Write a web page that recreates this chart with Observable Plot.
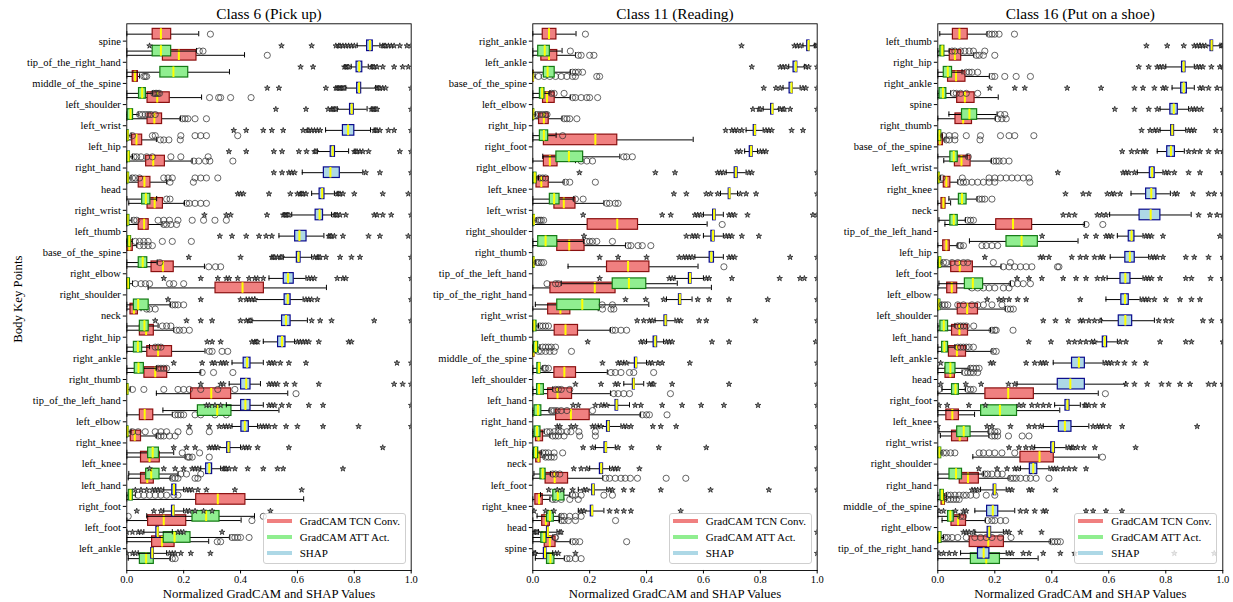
<!DOCTYPE html>
<html><head><meta charset="utf-8">
<script src="https://cdn.jsdelivr.net/npm/d3@7"></script>
<script src="https://cdn.jsdelivr.net/npm/@observablehq/plot@0.6"></script>
<style>
body{margin:0;background:#fff;}
#wrap{position:relative;width:1233px;height:602px;overflow:hidden;font-family:"Liberation Serif","Times New Roman",serif;}
#wrap svg, #wrap svg text{font-family:"Liberation Serif","Times New Roman",serif !important;}
.panel{position:absolute;top:0;}
.legend{position:absolute;width:141px;height:49px;border:1px solid #cfcfcf;border-radius:3px;background:rgba(255,255,255,0.8);}
.legend .ln{position:absolute;left:3px;width:25px;height:4px;}
.legend .tx{position:absolute;left:36px;font-size:11px;line-height:14px;color:#000;white-space:nowrap;}
</style></head><body><div id="wrap"></div><script>
// ---------- Class 6 (Pick up) ----------
const C6_LABELS = ["spine","tip_of_the_right_hand","middle_of_the_spine","left_shoulder","left_wrist","left_hip","right_hand","head","right_wrist","left_thumb","base_of_the_spine","right_elbow","right_shoulder","neck","right_hip","right_ankle","right_thumb","tip_of_the_left_hand","left_elbow","right_knee","left_knee","left_hand","right_foot","left_foot","left_ankle"];
// [whisker low, q1, median, q3, whisker high]
const C6_TCN = [[0,.091,.12,.156,.253],[0,.127,.183,.245,.414],[0,.021,.029,.039,.045],[0,.073,.107,.151,.263],[0,.073,.097,.124,.189],[0,.019,.034,.054,.104],[0,.068,.093,.134,.23],[0,.042,.062,.083,.14],[.007,.073,.098,.127,.203],[0,.042,.061,.077,.124],[0,.002,.009,.021,.035],[0,.087,.127,.165,.273],[.075,.312,.407,.482,.702],[0,.013,.025,.039,.05],[0,.046,.068,.095,.165],[0,.072,.11,.159,.275],[0,.062,.1,.142,.26],[.104,.226,.297,.367,.566],[0,.046,.063,.093,.16],[0,.014,.028,.05,.105],[0,.05,.08,.116,.205],[.005,.05,.072,.095,.155],[0,.244,.32,.417,.622],[0,.075,.13,.209,.402],[0,.089,.124,.168,.288]];
const C6_TCN_OUT = [[.294],[.494],[.06,.065,.07],[.291,.323,.33,.365,.437],[.195,.205,.215,.24,.28],[.118,.13,.148,.188],[.236,.253,.277,.292,.373],[.152,.234],[.21,.22,.24,.26,.28],[.13,.14,.155,.175],[.045,.06,.075,.09],[.288,.312,.33],[],[.07,.08,.1],[.175,.185,.2,.22],[.29,.3,.335,.355],[.265,.305,.373],[.595],[.17,.18,.19,.2,.24,.26,.31,.35],[.11,.12,.13,.15,.17],[.215,.22,.23,.29],[.16,.17,.18,.24,.25],[],[.44],[.318,.33]];
const C6_ATT = [[0,.091,.12,.156,.245],[0,.118,.164,.216,.361],[0,.043,.054,.067,.09],[0,.003,.013,.022,.04],[0,0,.003,.007,.015],[0,0,.006,.011,.02],[0,0,.003,.008,.015],[0,.054,.067,.083,.105],[0,0,.003,.009,.018],[0,.005,.009,.015,.02],[0,.042,.056,.072,.107],[0,0,.004,.011,.02],[0,.025,.04,.077,.154],[0,.046,.062,.077,.11],[0,.025,.039,.054,.08],[0,.028,.041,.06,.105],[0,0,.002,.006,.012],[.127,.25,.318,.368,.535],[0,0,.002,.006,.015],[0,.075,.091,.113,.165],[.007,.068,.086,.115,.18],[0,.007,.013,.021,.03],[.07,.231,.279,.326,.449],[0,.13,.168,.224,.362],[.005,.046,.068,.095,.153]];
const C6_ATT_OUT = [[.255,.268],[],[.095,.1,.105,.11,.115],[.045,.055,.065,.075,.085,.1],[.02,.09,.1,.19,.24,.26,.28,.39],[.025,.035,.05,.07,.09,.155,.19,.286],[.02,.03,.045,.13,.145,.16,.24,.26,.28,.32],[.14,.152],[.025,.035,.11,.13,.15,.18,.23,.27,.31,.35],[.03,.045,.06,.075,.125,.16,.227],[.116],[.03,.05,.065,.08,.15,.165,.2],[.16,.17,.18,.2],[.125,.14,.155],[.1,.11,.12],[.11,.12,.13,.14],[.02,.06,.13,.18,.2,.22,.26,.32,.38],[],[.02,.04,.065,.1,.12,.14,.18,.22,.29],[.195,.256],[.19,.21,.26],[.04,.06,.08,.1,.12,.14,.165,.18],[.005,.48],[.37,.38,.39,.4,.43],[.16,.17]];
const C6_SHAP = [[.81,.845,.855,.865,.89],[.789,.808,.817,.828,.849],[.77,.81,.817,.824,.875],[.74,.785,.791,.798,.845],[.699,.76,.778,.80,.857],[.67,.717,.724,.732,.78],[.617,.693,.716,.749,.83],[.65,.678,.687,.695,.73],[.58,.664,.678,.69,.72],[.535,.592,.607,.632,.693],[.55,.598,.604,.611,.65],[.5,.552,.567,.587,.63],[.45,.555,.566,.576,.62],[.44,.546,.56,.576,.635],[.48,.532,.546,.558,.59],[.37,.411,.423,.435,.48],[.36,.402,.42,.435,.47],[.35,.402,.417,.435,.48],[.37,.403,.415,.429,.46],[.31,.353,.358,.364,.4],[.26,.279,.29,.3,.33],[.13,.16,.166,.174,.2],[.13,.159,.164,.168,.2],[.06,.104,.109,.113,.16],[.04,.086,.09,.095,.14]];
const C6_SHAP_OUT = [[.08,.544,.65,.735,.745,.75,.76,.77,.78,.79,.80,.90,.905,.91,.92,.93,.94,.96,.985,1],[.611,.655,.765,.77,.775,.78,.86,.865,.87,.88,.9,.94,.97,.99],[.494,.535,.7,.735,.74,.745,.75,.755,.76,.765,.88,.885,.89,.9,.91,1],[.524,.63,.708,.72,.725,.73,.735,.86,.865,.87,.875,.88,1],[.376,.42,.48,.51,.55,.62,.635,.64,.65,.66,.67,.68,.87,.875,.88,.89,.92,.94,1],[.359,.42,.517,.546,.605,.632,.66,.665,.8,.805,.81,.82,.83,.85,.96,1],[.517,.546,.57,.58,.59,.84,.89,1],[.39,.40,.41,.5,.575,.6,.61,.615,.62,.63,.74,.745,.75,.76,.8,.9,.99],[.273,.35,.365,.493,.55,.555,.56,.565,.57,.73,.735,.74,.75,.77,.87,.88,.9,.93,1],[.327,.37,.42,.465,.49,.51,.71,.715,.72,.73,.76,.85,.89,.99],[.218,.4,.51,.515,.52,.53,.54,.545,.66,.67,.675,.68,.7,.75,.79,.82,1],[.13,.26,.32,.35,.36,.39,.43,.45,.46,.48,.64,.65,.66,.74,.76,.77,1],[.145,.26,.4,.42,.43,.44,.45,.63,.64,.65,.67,1],[.1,.21,.26,.3,.4,.42,.43,.435,.65,.68,.72,.87,1],[.283,.3,.33,.44,.45,.455,.46,.6,.61,.62,.63,.64,.675,.78,.79],[.165,.265,.3,.31,.33,.34,.35,.5,.51,.52,.54,.57,.63,.95,1],[.26,.33,.34,.5,.51,.52,.53,.56,.59,.675,.94,.97,1],[.28,.29,.31,.33,.5,.51,.52,.545,.57,.64,.69,1],[.22,.29,.325,.34,.35,.36,.47,.48,.49,.5,.52,.56,.6,.69,.815,1],[.165,.21,.24,.29,.3,.31,.32,.41,.42,.43,.46,.57,.9],[.08,.13,.17,.2,.23,.24,.25,.34,.345,.35,.36,.38,.425,.48,.53,.55,.76],[.03,.05,.07,.09,.1,.11,.12,.21,.22,.23,.25,.28,.38,.615],[.035,.095,.12,.21,.22,.24,.27,.3,.505],[0,.02,.04,.05,.18,.19,.2,.335],[0,.02,.03,.15,.16,.17,.19,.225,.294]];

// ---------- Class 11 (Reading) ----------
const C11_LABELS = ["right_ankle","left_ankle","base_of_the_spine","left_elbow","right_hip","right_foot","right_elbow","left_knee","left_wrist","right_shoulder","right_thumb","tip_of_the_left_hand","tip_of_the_right_hand","right_wrist","left_thumb","middle_of_the_spine","left_shoulder","left_hand","right_hand","left_hip","neck","left_foot","right_knee","head","spine"];
const C11_TCN = [[0,.035,.057,.083,.152],[0,.03,.057,.086,.15],[0,0,.001,.003,.008],[0,.036,.05,.077,.132],[0,.022,.039,.056,.103],[0,.039,.22,.297,.564],[0,.039,.06,.087,.15],[0,.013,.03,.056,.11],[0,.076,.109,.15,.25],[0,.193,.297,.37,.613],[0,.086,.128,.182,.326],[.124,.261,.335,.41,.581],[0,.062,.218,.291,.628],[0,.054,.097,.132,.23],[0,.077,.115,.159,.273],[0,0,.002,.006,.01],[0,.076,.111,.152,.262],[0,.054,.087,.138,.273],[0,.082,.134,.2,.379],[0,.011,.02,.036,.06],[0,.012,.02,.027,.04],[0,.045,.077,.124,.246],[0,.009,.022,.035,.06],[0,.033,.046,.06,.094],[0,.042,.06,.08,.132]];
const C11_TCN_OUT = [[.185],[.16,.17,.2,.215],[.02,.04,.06,.08,.1,.12,.14,.15,.225,.235],[.14,.15,.17,.19,.2,.228],[.11,.12,.13,.155],[],[.17,.19,.21],[.115,.13,.22],[.26,.27,.29,.3],[.666],[.335,.345,.37,.385,.415],[.672],[],[.245,.275,.285],[.28,.29,.31,.33],[.02,.03,.045,.06,.075,.136],[.275,.29,.31,.34,.355,.425],[.285,.3,.32,.34,.484],[.385,.4,.41,.472],[.07,.08,.09,.11,.165,.22],[.045,.055,.065,.075],[.256,.27,.29,.31,.325,.343,.368,.469,.538],[.07,.08,.1,.13,.16],[.1,.11,.125,.15,.291],[.14,.15,.165,.33]];
const C11_ATT = [[0,.019,.042,.06,.103],[0,.039,.052,.077,.132],[0,.025,.033,.041,.06],[0,0,.002,.005,.01],[0,.025,.039,.054,.082],[.035,.083,.127,.177,.306],[0,.001,.007,.013,.02],[0,.06,.075,.094,.144],[0,.001,.004,.007,.012],[0,.019,.045,.086,.178],[0,.001,.003,.006,.01],[.1,.281,.338,.399,.508],[.009,.086,.174,.236,.408],[0,.001,.005,.013,.02],[0,.004,.011,.019,.025],[0,.016,.022,.027,.035],[0,.015,.022,.039,.07],[0,.006,.018,.03,.06],[0,.006,.015,.027,.04],[0,.004,.011,.019,.03],[.004,.027,.035,.045,.062],[.027,.072,.088,.111,.13],[.015,.05,.06,.074,.095],[0,.03,.04,.048,.07],[.009,.05,.062,.076,.111]];
const C11_ATT_OUT = [[.132],[.14,.15,.16,.175],[.065,.075,.11],[.015,.025,.035,.045,.05],[.105],[.32,.33,.35],[.025,.035,.045],[.15,.177],[.018,.025,.03,.038],[.19,.2,.21,.225,.28],[.015,.022,.03,.038],[.05,.08,.09],[.244,.28],[.025,.035,.045,.055],[.035,.045,.055,.065,.08],[.04,.045,.055],[.08,.09,.1,.13],[.065,.075,.085,.1,.12,.21],[.05,.06,.075,.09,.1,.12,.134,.162,.22],[.035,.045,.055,.075,.105],[.07,.08,.095],[.14,.15,.17,.25,.28],[.1,.11,.13,.15,.17],[.078,.08],[.12,.13,.15,.17]];
const C11_SHAP = [[.95,.965,.97,.973,.99],[.9,.917,.925,.93,.955],[.88,.903,.91,.914,.94],[.81,.838,.843,.846,.865],[.75,.777,.781,.785,.81],[.745,.763,.768,.773,.79],[.68,.71,.714,.72,.75],[.66,.689,.692,.695,.72],[.6,.634,.638,.643,.67],[.6,.628,.634,.639,.67],[.57,.622,.628,.637,.67],[.5,.549,.553,.558,.6],[.47,.514,.517,.522,.56],[.43,.463,.467,.472,.5],[.4,.425,.431,.437,.46],[.32,.359,.363,.367,.4],[.32,.352,.355,.359,.39],[.25,.291,.295,.3,.34],[.23,.261,.266,.271,.31],[.22,.252,.257,.261,.29],[.2,.236,.241,.247,.27],[.16,.209,.213,.218,.26],[.16,.204,.209,.212,.25],[.02,.05,.053,.056,.085],[.01,.039,.043,.048,.07]];
const C11_SHAP_OUT = [[.734,.92,.93,.94,.995,1],[.77,.87,.88,.89,.96,.97,1],[.812,.855,.87,.95,.96,1],[.774,.795,.8,.87,.88,.885,.905,1],[.678,.7,.71,.72,.735,.82,.83,.84,.91,.95],[.718,.73,.8,.81,.82],[.164,.431,.5,.65,.66,.67,.76,.77,1],[.496,.54,.61,.625,.65,.73,.75,.785,1],[.177,.455,.485,.57,.58,.59,.69,.7,.71,.755,.985,1],[.18,.54,.56,.57,.58,.68,.69,.7,.735,.795],[.235,.3,.4,.515,.53,.54,.55,.56,.69,.7,.71,.905,1],[.235,.48,.49,.61,.62,.7,.868,.94,.955,1],[.326,.397,.46,.58,.62,.69,.826,1],[.367,.39,.41,.42,.51,.52,.585,.61,.783,1],[.193,.38,.39,.47,.48,.49,.63,.69,.995],[.245,.3,.31,.33,.41,.42,.44,.455,.552,1],[.15,.24,.29,.3,.41,.42,.425,.49,.69,1],[.142,.16,.22,.24,.26,.36,.38,.455,.525,.592,.672,.792,1],[.086,.095,.135,.15,.21,.22,.24,.32,.33,.345,.422,.45,.504,1],[.177,.21,.3,.347,.443,.61,1],[.144,.17,.19,.28,.29,.3,.375,1],[.056,.086,.103,.14,.18,.19,.27,.28,.32,.35,.45,.625,.83,1],[.004,.045,.074,.17,.18,.27,.295,.32,.345,.52],[.005,.01,.015,.095,.1,1],[.004,.008,.08,.09,.15,1]];

// ---------- Class 16 (Put on a shoe) ----------
const C16_LABELS = ["left_thumb","right_hip","right_ankle","spine","right_thumb","base_of_the_spine","left_wrist","right_knee","neck","tip_of_the_left_hand","left_hip","left_foot","left_elbow","left_shoulder","left_hand","left_ankle","head","right_foot","left_knee","right_wrist","right_shoulder","right_hand","middle_of_the_spine","right_elbow","tip_of_the_right_hand"];
const C16_TCN = [[.007,.053,.076,.105,.173],[0,.042,.06,.082,.126],[0,.036,.064,.097,.181],[0,.068,.095,.129,.212],[0,.062,.089,.12,.202],[0,0,.007,.018,.025],[.021,.06,.083,.115,.188],[0,.021,.03,.044,.07],[0,.013,.02,.027,.045],[.025,.205,.264,.331,.515],[0,.019,.03,.042,.07],[0,.047,.077,.123,.222],[0,.033,.049,.068,.11],[0,.07,.103,.141,.237],[0,.05,.076,.106,.185],[0,.039,.067,.099,.19],[0,.027,.044,.06,.085],[0,.167,.247,.337,.563],[0,.03,.051,.074,.129],[.009,.05,.077,.106,.179],[.123,.29,.357,.407,.565],[0,.077,.106,.144,.25],[0,.013,.019,.025,.03],[.015,.048,.071,.099,.167],[0,.112,.177,.232,.395]];
const C16_TCN_OUT = [[.18,.19,.2,.215,.269],[.135,.145,.16,.2],[.19,.2,.235,.275,.325],[],[.21,.225,.24],[.03,.04,.06,.148],[.195,.205,.215,.23,.25],[.08,.09,.1,.12,.14,.16,.18,.2,.323],[],[.52,.579],[.075,.08,.09,.155,.17,.19,.21],[.23,.25,.27,.29,.31,.33,.42,.425],[.12,.14,.16,.18,.2,.23,.25],[.245,.255,.265],[.19,.2,.205,.264],[.195,.205],[.095,.105,.115,.125,.14],[.588],[],[.19,.2,.21,.248,.296,.32],[.578],[.255,.265,.275,.29,.31,.325,.345,.39],[.035,.045,.055,.065,.075],[.175,.19,.2,.22,.238],[.4,.41,.42,.43]];
const C16_ATT = [[0,.009,.016,.023,.04],[0,.021,.035,.05,.085],[0,.006,.018,.03,.045],[.039,.085,.111,.138,.208],[0,.001,.006,.012,.015],[0,.044,.056,.07,.103],[0,0,.003,.007,.01],[.039,.074,.085,.101,.138],[.004,.044,.056,.07,.097],[.111,.241,.294,.351,.492],[0,.004,.007,.012,.015],[.004,.095,.123,.159,.255],[0,0,.003,.009,.012],[0,.009,.021,.036,.06],[0,.015,.023,.036,.06],[0,.027,.044,.062,.11],[.015,.05,.062,.074,.097],[0,.152,.218,.278,.428],[.004,.068,.091,.115,.179],[0,.001,.006,.012,.015],[0,.041,.064,.085,.16],[0,.009,.015,.021,.03],[0,.036,.044,.056,.075],[0,.002,.006,.013,.02],[0,.116,.17,.218,.352]];
const C16_ATT_OUT = [[.05,.06,.08,.095,.11,.125,.165],[.1,.11,.12,.14],[.055,.065,.08,.1,.14],[.22,.235],[.02,.04,.06,.1,.15,.22,.25,.27,.337],[.107],[.015,.086,.18,.2,.22,.24,.26,.28,.3,.32],[.145,.155,.165,.19],[.105,.115,.125],[],[.02,.03,.05,.07,.09,.105,.195,.255],[.26,.28,.3,.325],[.015,.025,.035,.07,.09,.12,.14,.16,.19,.225],[.07,.08,.09,.1,.126],[.07,.08,.09,.1,.11,.125],[.115,.125,.135,.145],[.004,.105,.115,.125],[],[.185,.2,.21],[.02,.03,.045,.06,.145,.16,.18,.2,.225,.27],[.165,.175,.19,.21,.226],[.035,.045,.06,.075,.09,.1,.115,.135,.17,.2],[.08,.09],[.025,.035,.05,.07,.1,.13,.15,.17,.19,.22,.257],[]];
const C16_SHAP = [[.92,.957,.961,.966,.99],[.8,.857,.863,.869,.9],[.822,.854,.863,.874,.9],[.78,.816,.828,.842,.88],[.78,.819,.823,.829,.87],[.77,.805,.818,.832,.865],[.7,.744,.752,.761,.79],[.678,.731,.749,.767,.816],[.603,.708,.747,.781,.889],[.63,.67,.68,.69,.72],[.605,.658,.674,.691,.74],[.594,.641,.658,.676,.72],[.59,.644,.657,.67,.71],[.574,.635,.658,.682,.76],[.55,.579,.586,.594,.63],[.405,.471,.495,.516,.58],[.278,.421,.465,.516,.659],[.41,.448,.455,.462,.5],[.37,.425,.446,.469,.53],[.34,.398,.405,.411,.45],[.29,.323,.335,.349,.39],[.15,.196,.2,.205,.24],[.13,.173,.193,.212,.27],[.13,.175,.181,.187,.23],[.08,.141,.161,.181,.24]];
const C16_SHAP_OUT = [[.732,.805,.863,.9,.91,.92,.93,.94,.995,1],[.705,.74,.77,.78,.79,.91,.92,.93,.96,.99,1],[.182,.27,.305,.454,.573,.69,.72,.76,.79,.8,.92,.93,.95,.98,1],[.621,.69,.74,.77,.89,.9,.91,.925,1],[.715,.745,.76,.77,.88,.89,.9,.975,1],[.647,.68,.7,.72,.73,.88,.9,.92,.95,.98,1],[.421,.65,.66,.67,.69,.8,.81,.83,.88,.92,1],[.448,.51,.53,.595,.61,.62,.64,.83,.84,.895,.95,.97,1],[.44,.46,.48,.56,.575,.59,.915,.955,.98,1],[.366,.52,.555,.59,.6,.61,.73,.74,.75,.79,.99],[.165,.36,.37,.39,.47,.5,.52,.55,.57,.58,.75,.76,.77,.79,.87,.9,.95,1],[.278,.32,.365,.44,.485,.52,.56,.58,.73,.74,.75,.78,.87,.89,.957,1],[.173,.215,.23,.25,.28,.31,.5,.72,.73,.74,.76,.8,.85,.89,.92],[.37,.413,.456,.5,.51,.53,.55,.57,.775,.8,.82,.93,.96,1],[.319,.397,.46,.48,.5,.52,.54,.55,.64,.66,.78,.87,.89,1],[.01,.185,.195,.31,.34,.36,.37,.38,.59,.6,.61,.63,.655,.69,.73],[.01,.098,.152,.248,.27,.66,.69,.735,.785,.81,.85,.885,.95,.97,1],[.004,.033,.109,.167,.285,.3,.33,.35,.37,.39,.515,.52,.53,.55,.58],[0,.173,.19,.255,.32,.34,.36,.545,.56,.57,.58,.6,.647,.91],[.25,.285,.309,.33,.46,.47,.475,.49,.512,.551,.694],[.144,.208,.243,.27,.28,.4,.41,.42,.44,.46,.48,.52],[.12,.13,.14,.25,.26,.32,.33,.413],[.004,.02,.062,.09,.1,.29,.31,.34,.37,.38,.52,.545,.59,.646],[.09,.1,.11,.125,.24,.25,.29,.364],[.004,.02,.04,.06,.25,.26,.3,.32,.37,.43,.48,.83,.97]];

const METHODS = [
  {key:"tcn", name:"GradCAM TCN Conv.", off:-0.33, fill:"#F08080", stroke:"#8B1010", line:"#F08080"},
  {key:"att", name:"GradCAM ATT Act.", off:0.47, fill:"#90EE90", stroke:"#147a14", line:"#90EE90"},
  {key:"shap", name:"SHAP", off:0.22, fill:"#ADD8E6", stroke:"#0a0a8c", line:"#ADD8E6"}
];

const PANELS = [
  {title:"Class 6 (Pick up)", labels:C6_LABELS, tcn:C6_TCN, tcnOut:C6_TCN_OUT, att:C6_ATT, attOut:C6_ATT_OUT, shap:C6_SHAP, shapOut:C6_SHAP_OUT, left:0, frameLeft:126.3, frameW:284.4, ylabel:true},
  {title:"Class 11 (Reading)", labels:C11_LABELS, tcn:C11_TCN, tcnOut:C11_TCN_OUT, att:C11_ATT, attOut:C11_ATT_OUT, shap:C11_SHAP, shapOut:C11_SHAP_OUT, left:412, frameLeft:532.3, frameW:284.4, ylabel:false},
  {title:"Class 16 (Put on a shoe)", labels:C16_LABELS, tcn:C16_TCN, tcnOut:C16_TCN_OUT, att:C16_ATT, attOut:C16_ATT_OUT, shap:C16_SHAP, shapOut:C16_SHAP_OUT, left:818, frameLeft:937.3, frameW:285, ylabel:false}
];

const FONT = "'Liberation Serif', 'Times New Roman', serif";
const wrap = document.getElementById("wrap");
const TOP = 23.3, BOTTOM = 570;

for (const p of PANELS) {
  const marks = [];
  for (const m of METHODS) {
    const stats = p[m.key], outs = p[m.key + "Out"];
    const rows = stats.map((s, i) => ({y: i + m.off, lo: s[0], q1: s[1], med: s[2], q3: s[3], hi: s[4]}));
    const pts = outs.flatMap((arr, i) => arr.map(x => ({x, y: i + m.off})));
    marks.push(
      Plot.ruleY(rows, {y: "y", x1: "lo", x2: "q1", stroke: "black", strokeWidth: 1, clip: true}),
      Plot.ruleY(rows, {y: "y", x1: "q3", x2: "hi", stroke: "black", strokeWidth: 1, clip: true}),
      Plot.ruleX(rows, {x: "lo", y1: d => d.y - 0.125, y2: d => d.y + 0.125, stroke: "black", strokeWidth: 1, clip: true}),
      Plot.ruleX(rows, {x: "hi", y1: d => d.y - 0.125, y2: d => d.y + 0.125, stroke: "black", strokeWidth: 1, clip: true}),
      Plot.rect(rows, {x1: "q1", x2: "q3", y1: d => d.y - 0.25, y2: d => d.y + 0.25, fill: m.fill, stroke: m.stroke, strokeWidth: 1.2, clip: true}),
      Plot.ruleX(rows, {x: "med", y1: d => d.y - 0.25, y2: d => d.y + 0.25, stroke: "#FFFF00", strokeWidth: 2, clip: true}),
      m.key === "shap"
        ? Plot.dot(pts, {x: "x", y: "y", symbol: "star", r: 1.75, fill: "#8a8a8a", stroke: "#111", strokeWidth: 0.7, clip: true})
        : Plot.dot(pts, {x: "x", y: "y", symbol: "circle", r: 3.1, fill: "none", stroke: "#333", strokeWidth: 0.75, clip: true})
    );
  }
  const ml = p.frameLeft - p.left, mr = 2;
  const labels = p.labels;
  marks.push(
    Plot.frame({stroke: "black", strokeWidth: 0.9}),
    Plot.axisY({ticks: d3.range(labels.length), tickFormat: i => labels[i], tickSize: 3.5, tickPadding: 2.5, label: null, fontSize: 10.5, fontFamily: FONT}),
    Plot.axisX({ticks: [0, 0.2, 0.4, 0.6, 0.8, 1.0], tickFormat: d3.format(".1f"), tickSize: 3.5, tickPadding: 1.5, label: null, fontSize: 10.5, fontFamily: FONT}),
    Plot.text([p.title], {text: d => d, frameAnchor: "top", lineAnchor: "middle", textAnchor: "middle", dy: -9.5, fontSize: 15.4, fontFamily: FONT, fill: "black"}),
    Plot.text(["Normalized GradCAM and SHAP Values"], {text: d => d, frameAnchor: "bottom", lineAnchor: "middle", textAnchor: "middle", dy: 23.3, fontSize: 12.8, fontFamily: FONT, fill: "black"})
  );
  if (p.ylabel) marks.push(Plot.text(["Body Key Points"], {text: d => d, frameAnchor: "left", textAnchor: "middle", lineAnchor: "middle", dx: -(ml - 17.5), dy: 2, rotate: -90, fontSize: 12.8, fontFamily: FONT, fill: "black"}));

  const svg = Plot.plot({
    width: ml + p.frameW + mr,
    height: 602,
    marginLeft: ml, marginRight: mr, marginTop: TOP, marginBottom: 602 - BOTTOM,
    x: {domain: [0, 1]},
    y: {domain: [25.03, -0.82]},
    style: {fontFamily: FONT, fontSize: "10.5px", background: "transparent", color: "black", overflow: "visible"},
    marks
  });
  svg.classList.add("panel");
  svg.style.left = p.left + "px";
  wrap.appendChild(svg);

  // legend (matplotlib-style, lower right)
  const lg = document.createElement("div");
  lg.className = "legend";
  lg.style.left = (p.frameLeft + p.frameW - 148) + "px";
  lg.style.top = "512.7px";
  METHODS.forEach((m, k) => {
    const cy = [7.5, 23.8, 39.8][k];
    const ln = document.createElement("div");
    ln.className = "ln"; ln.style.top = (cy - 2) + "px"; ln.style.background = m.line;
    const tx = document.createElement("div");
    tx.className = "tx"; tx.style.top = (cy - 7.5) + "px"; tx.textContent = m.name;
    lg.appendChild(ln); lg.appendChild(tx);
  });
  wrap.appendChild(lg);
}
</script></body></html>
